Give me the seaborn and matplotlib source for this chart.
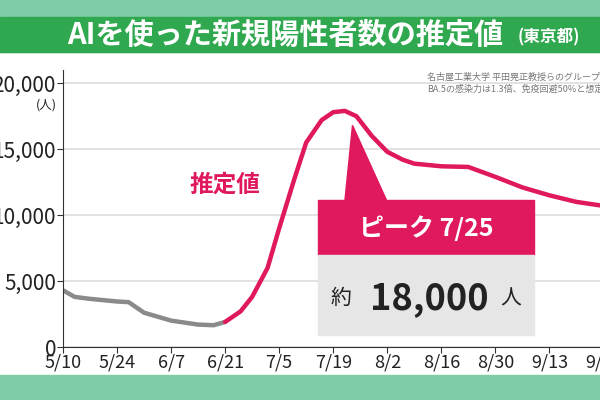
import matplotlib.pyplot as plt
import matplotlib.patches as mpatches
import matplotlib.dates as mdates
import seaborn as sns
import pandas as pd
import numpy as np

# data
gray_dates = ['5/10', '5/13', '5/17', '5/24', '5/27', '5/31', '6/7', '6/14', '6/18', '6/21']
gray_vals = [4300, 3800, 3650, 3450, 3400, 2600, 2000, 1700, 1650, 1900]
pink_dates = ['6/21', '6/25', '6/28', '7/2', '7/5', '7/9', '7/12', '7/16', '7/19', '7/22',
              '7/25', '7/29', '8/2', '8/6', '8/9', '8/16', '8/23', '8/30', '9/6', '9/13',
              '9/20', '9/27']
pink_vals = [1900, 2700, 3800, 6000, 9000, 12800, 15500, 17200, 17800, 17900,
             17500, 16000, 14800, 14200, 13900, 13700, 13650, 12900, 12100, 11500,
             11000, 10700]
tick_labels = ['5/10', '5/24', '6/7', '6/21', '7/5', '7/19', '8/2', '8/16', '8/30', '9/13', '9/27']
y_ticks = [0, 5000, 10000, 15000, 20000]

def to_date(s):
    return pd.Timestamp(f'2022/{s}')

def dn(s):
    return mdates.date2num(to_date(s))

gray = pd.DataFrame({'d': [to_date(s) for s in gray_dates], 'v': gray_vals})
pink = pd.DataFrame({'d': [to_date(s) for s in pink_dates], 'v': pink_vals})

plt.rcdefaults()
sns.set_style('white')
plt.rcParams['font.family'] = ['Noto Sans CJK JP', 'DejaVu Sans']

fig = plt.figure(figsize=(6, 4), dpi=100)
fig.patch.set_facecolor('white')

# header and footer bands
fig.patches.append(mpatches.Rectangle((0, 0.87), 1, 0.13, transform=fig.transFigure,
                                      color='#7ecda6', zorder=0))
fig.patches.append(mpatches.Rectangle((0, 0.87), 1, 0.088, transform=fig.transFigure,
                                      color='#2fa84f', zorder=0))
fig.patches.append(mpatches.Rectangle((0, 0), 1, 0.063, transform=fig.transFigure,
                                      color='#7ecda6', zorder=0))
fig.text(0.475, 0.912, 'AIを使った新規陽性者数の推定値', color='white', fontsize=21,
         fontweight='bold', ha='center', va='center')
fig.text(0.915, 0.907, '(東京都)', color='white', fontsize=12, fontweight='bold',
         ha='center', va='center')

ax = fig.add_axes([0.105, 0.1325, 0.92, 0.6925])
ax.set_facecolor('white')
sns.lineplot(data=gray, x='d', y='v', color='#8a8a8a', linewidth=3.2, ax=ax)
sns.lineplot(data=pink, x='d', y='v', color='#e0185e', linewidth=3.2, ax=ax)

ax.set_xlim(dn('5/10'), dn('9/30'))
ax.set_ylim(0, 21000)
ax.set_xticks([dn(s) for s in tick_labels])
ax.set_xticklabels(tick_labels, fontsize=13)
ax.set_yticks(y_ticks)
ax.set_yticklabels([f'{v:,}' for v in y_ticks], fontsize=15)
ax.set_xlabel('')
ax.set_ylabel('')
ax.grid(axis='y', color='#dddddd', linewidth=1.2)
for side in ['top', 'right']:
    ax.spines[side].set_visible(False)
for side in ['left', 'bottom']:
    ax.spines[side].set_color('#333333')
ax.tick_params(axis='both', length=4, color='#333333', pad=1, direction='out',
               bottom=True, left=True, labelcolor='#222222')

ax.text(-0.012, 0.875, '(人)', transform=ax.transAxes, fontsize=9, ha='right', va='center')
ax.text(0.66, 0.975, '名古屋工業大学 平田晃正教授らのグループ', transform=ax.transAxes,
        fontsize=6.5, color='#777777', va='center')
ax.text(0.66, 0.93, 'BA.5の感染力は1.3倍、免疫回避50%と想定', transform=ax.transAxes,
        fontsize=6.5, color='#777777', va='center')
ax.text(dn('6/21'), 12300, '推定値', color='#e0185e', fontsize=17,
        fontweight='bold', ha='center', va='center')

# peak callout
ax.add_patch(mpatches.Polygon([(dn('7/24'), 16800), (dn('7/22'), 11000),
                               (dn('8/2'), 11000)], closed=True,
                              color='#e0185e', zorder=4))
ax.add_patch(mpatches.Rectangle((dn('7/15'), 6970), 56, 4170,
                                color='#e0185e', zorder=5))
ax.add_patch(mpatches.Rectangle((dn('7/15'), 900), 56, 6070,
                                color='#e6e6e6', zorder=5))
ax.text(dn('8/12'), 9000, 'ピーク 7/25', color='white', fontsize=18,
        fontweight='bold', ha='center', va='center', zorder=6)
ax.text(dn('7/21'), 3700, '約', color='#222222', fontsize=15, ha='center',
        va='center', zorder=6)
ax.text(dn('8/13'), 3700, '18,000', color='#222222', fontsize=26,
        fontweight='bold', ha='center', va='center', zorder=6)
ax.text(dn('9/3'), 3700, '人', color='#222222', fontsize=15, ha='center',
        va='center', zorder=6)

fig.savefig('out.png', dpi=100)
